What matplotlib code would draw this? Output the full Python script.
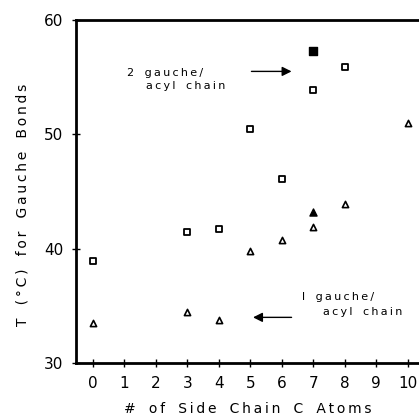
import matplotlib.pyplot as plt

# open squares: 2 gauche / acyl chain
sq_x = [0, 3, 4, 5, 6, 7, 8]
sq_y = [38.9, 41.5, 41.7, 50.5, 46.1, 53.9, 55.9]
sq_fill_x = [7]
sq_fill_y = [57.3]

# open triangles: 1 gauche / acyl chain
tri_x = [0, 3, 4, 5, 6, 7, 8, 10]
tri_y = [33.5, 34.5, 33.8, 39.8, 40.8, 41.9, 43.9, 51.0]
tri_fill_x = [7]
tri_fill_y = [43.2]

xticks = list(range(0, 11))
yticks = [30, 40, 50, 60]


def spaced(s):
    # wide letter spacing like the original typewriter-ish labels
    return "\u2009".join(s).replace("\u2009 \u2009", "   ")


fig = plt.figure(figsize=(4.19, 4.15), dpi=100)
ax = fig.add_axes([0.181, 0.125, 0.819, 0.827])

ax.scatter(sq_x, sq_y, marker="s", s=22, facecolor="white", edgecolor="black", lw=1.3, zorder=3)
ax.scatter(sq_fill_x, sq_fill_y, marker="s", s=26, color="black", zorder=3)
ax.scatter(tri_x, tri_y, marker="^", s=20, facecolor="white", edgecolor="black", lw=1.2, zorder=3)
ax.scatter(tri_fill_x, tri_fill_y, marker="^", s=26, color="black", zorder=3)

ax.set_xlim(-0.54, 10.36)
ax.set_ylim(30, 60)
ax.set_xticks(xticks)
ax.set_yticks(yticks)
ax.tick_params(direction="inout", length=6, width=1, labelsize=11, pad=6)

for s in ("left", "bottom", "top"):
    ax.spines[s].set_linewidth(2)
ax.spines["right"].set_visible(False)

ax.set_xlabel(spaced("# of Side Chain C Atoms"), fontsize=10, labelpad=8)
ax.set_ylabel(spaced("T (°C) for Gauche Bonds"), fontsize=10)
ax.yaxis.set_label_coords(-0.135, 0.46)

# annotations
ax.text(1.1, 55.4, spaced("2 gauche/"), fontsize=8, va="center")
ax.text(1.7, 54.2, spaced("acyl chain"), fontsize=8, va="center")
ax.annotate("", xy=(6.4, 55.5), xytext=(4.95, 55.5),
            arrowprops=dict(arrowstyle="-|>", color="black", lw=1, mutation_scale=14))

ax.text(6.65, 35.8, spaced("l gauche/"), fontsize=8, va="center")
ax.text(7.3, 34.5, spaced("acyl chain"), fontsize=8, va="center")
ax.annotate("", xy=(5.0, 34.0), xytext=(6.4, 34.0),
            arrowprops=dict(arrowstyle="-|>", color="black", lw=1, mutation_scale=14))

fig.savefig("out.png", dpi=100)
